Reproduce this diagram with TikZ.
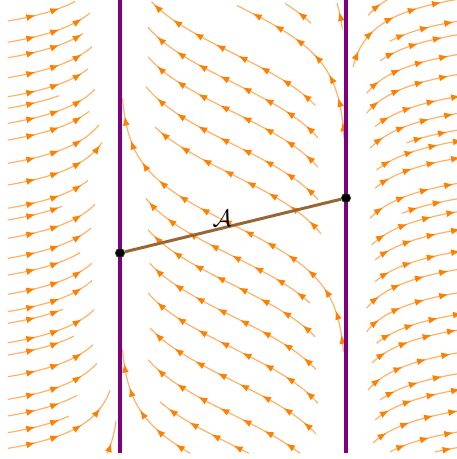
\documentclass[tikz,border=0pt]{standalone}
\usepackage{tikz}
\usetikzlibrary{arrows.meta, decorations.markings}

\definecolor{flowline}{RGB}{255,178,102}
\definecolor{flowtip}{RGB}{255,128,0}
\definecolor{wallpurple}{RGB}{127,0,127}
\definecolor{segbrown}{RGB}{153,102,51}

\begin{document}
\begin{tikzpicture}[
    x=2cm, y=2cm,
    flow/.style={draw=flowline, line width=0.6pt,
      postaction={decorate, decoration={markings,
        mark=between positions #1 and 1 step 0.44cm with {\arrow{Latex[length=4.6pt, width=3.5pt, color=flowtip]}}}}},
    flow/.default=0.3cm,
    wall/.style={draw=wallpurple, line width=2pt},
    seg/.style={draw=segbrown, line width=1.5pt},
    dot/.style={circle, fill=black, draw=black!80, inner sep=0pt, minimum size=4.6pt}
]
    \useasboundingbox (-2.062,-2.031) rectangle (1.982,2.031);

    % Stream lines
    \begin{scope}
    \clip (-2.062,-1.978) rectangle (1.982,2.031);
    % left of the first wall
    \foreach \c/\e in {1.569/0.449, 1.381/0.536, 1.244/0.491, 1.067/0.551, 0.899/0.522, 0.797/0.387,
        0.664/0.577, 0.516/0.529, 0.310/0.616, 0.118/0.652, -0.088/0.522, -0.192/0.397,
        -0.354/0.577, -0.531/0.543, -0.679/0.474, -0.849/0.551, -1.003/0.551, -1.106/0.401,
        -1.278/0.568, -1.387/0.444, -1.579/0.559, -1.779/0.595, -1.926/0.458, -2.074/0.423, -2.213/0.792}
      \draw[flow=0.5cm] plot[domain=0.276:\e, samples=30] ({-1/tanh(2*\x)}, {\x+(\c)});
    \draw[flow=0.2cm] plot[domain=0.728:1.016, samples=20] ({-1/tanh(2*\x)}, {\x-2.71});
    % between the walls
    \foreach \c/\s/\e in {2.8/-1.022/-0.795, 2.25/-0.424/-0.249, 2.0/-1.2/-0.0175, 1.56/-0.46/0.456,
        1.30/-0.489/0.489, 1.04/-0.489/0.489, 0.754/-0.489/0.51, 0.483/-0.521/0.424,
        0.04/-1.12/1.12, -0.236/-0.415/0.51, -0.49/-0.46/0.489, -0.77/-0.47/0.47,
        -1.05/-0.489/0.489, -1.34/-0.47/0.47, -1.64/-0.34/0.489, -1.91/-0.07/0.384, -2.18/0.2/1.12}
      \draw[flow] plot[domain=\s:\e, samples=60] ({-tanh(2*\x)}, {\x+(\c)});
    % right of the second wall
    \foreach \c/\s in {2.50/-0.605, 2.314/-0.876, 2.12/-0.454, 2.0/-0.508, 1.825/-0.62, 1.648/-0.62,
        1.453/-0.543, 1.304/-0.586, 1.156/-0.388, 1.058/-0.532, 0.908/-0.543, 0.685/-0.586,
        0.548/-0.405, 0.434/-0.571, 0.273/-0.543, 0.081/-0.543, -0.077/-0.62, -0.284/-0.62,
        -0.475/-0.532, -0.613/-0.568, -0.815/-0.605, -1.0/-0.508, -1.143/-0.543, -1.33/-0.559,
        -1.515/-0.454, -1.653/-0.316}
      \draw[flow] plot[domain=\s:-0.27, samples=30] ({-1/tanh(2*\x)}, {\x+(\c)});
    \end{scope}

    % Walls
    \coordinate (lefttop) at (-1,2.031);
    \coordinate (leftbot) at (-1,-1.978);
    \coordinate (righttop) at (1,2.031);
    \coordinate (rightbot) at (1,-1.978);
    \draw[wall] (lefttop) -- (leftbot);
    \draw[wall] (righttop) -- (rightbot);

    % Segment A
    \node[dot] (pa) at (-1,-0.208) {};
    \node[dot] (pb) at (1,0.279) {};
    \draw[seg] (pa) -- node[pos=0.45, above, inner sep=0.3pt, font=\large] {$\mathcal{A}$} (pb);
\end{tikzpicture}
\end{document}
